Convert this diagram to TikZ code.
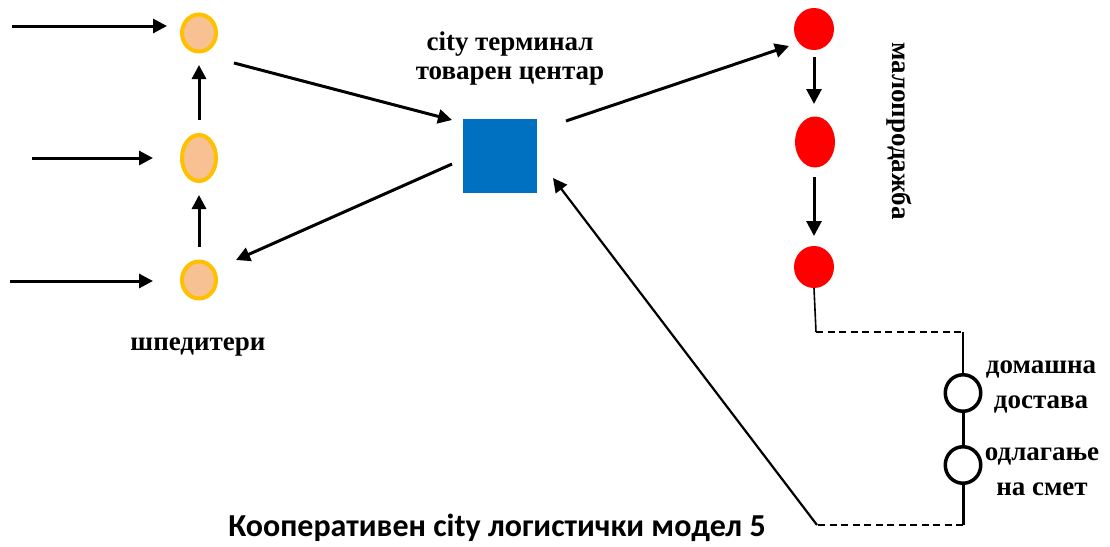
\documentclass[tikz,border=0pt]{standalone}
\usepackage{fontspec}
\setmainfont{Liberation Serif}
\newfontfamily\titlefont{Carlito}
\usetikzlibrary{arrows.meta,shapes.geometric}
\definecolor{peach}{HTML}{F8C193}
\definecolor{amber}{HTML}{FFC000}
\definecolor{termblue}{HTML}{0070C0}
\definecolor{shopred}{HTML}{FF0000}
\tikzset{
  arr/.style={line width=3pt,-{Triangle[length=14pt,width=14pt]}},
  fwd/.style={shape=ellipse,draw=amber,line width=4pt,fill=peach,inner sep=0pt,minimum width=34pt},
  shop/.style={shape=ellipse,fill=shopred,inner sep=0pt,minimum width=40pt},
  drop/.style={shape=ellipse,draw=black,line width=3.5pt,fill=white,inner sep=0pt,minimum width=35.5pt,minimum height=36.5pt},
  lbl/.style={font=\bfseries\fontsize{27}{29}\selectfont,align=center,inner sep=0pt},
  lblwide/.style={lbl,font=\bfseries\fontsize{27}{35}\selectfont},
  thinline/.style={line width=1.6pt},
  dashline/.style={line width=2pt,dash pattern=on 7pt off 4.5pt},
}
\begin{document}
\begin{tikzpicture}[x=1pt,y=-1pt]
\useasboundingbox (0,0) rectangle (1110,546);

% forwarders
\node[fwd,minimum height=37pt] (o1) at (199,33) {};
\node[fwd,minimum height=46pt] (o2) at (199,158) {};
\node[fwd,minimum height=37pt] (o3) at (199,280) {};

% terminal
\node[fill=termblue,minimum size=74pt,inner sep=0pt] (sq) at (500,156) {};

% retail
\node[shop,minimum height=42pt] (r1) at (814,29) {};
\node[shop,minimum height=51pt] (r2) at (815,142) {};
\node[shop,minimum height=42pt] (r3) at (814,267) {};

% home delivery and waste disposal
\node[drop] (c1) at (963,393) {};
\node[drop] (c2) at (963,465) {};

% free ends of the incoming arrows and the corners of the return route
\coordinate (s1) at (12,26);
\coordinate (s2) at (32,158);
\coordinate (s3) at (10,281);
\coordinate (k1) at (816,332);
\coordinate (k2) at (963,332);
\coordinate (k3) at (963,525);
\coordinate (k4) at (817,525);

% incoming flows
\draw[arr] (s1) -- ([shift={(-32,-7)}]o1.center);
\draw[arr] (s2) -- ([shift={(-46,0)}]o2.center);
\draw[arr] (s3) -- ([shift={(-46,1)}]o3.center);

% consolidation between forwarders
\draw[arr] ([shift={(0,-33)}]o3.center) -- ([shift={(0,37)}]o2.center);
\draw[arr] ([shift={(0,-38)}]o2.center) -- ([shift={(0,32)}]o1.center);

% forwarders <-> terminal
\draw[arr] ([shift={(35,30)}]o1.center) -- ([shift={(-48,-36)}]sq.center);
\draw[arr] ([shift={(-48,8)}]sq.center) -- ([shift={(37,-20)}]o3.center);

% terminal -> retail chain
\draw[arr] ([shift={(66,-35)}]sq.center) -- ([shift={(-25,17)}]r1.center);
\draw[arr,-{Triangle[length=15pt,width=15pt]}] ([shift={(0,28)}]r1.center) -- ([shift={(-1,-38)}]r2.center);
\draw[arr,-{Triangle[length=15pt,width=15pt]}] ([shift={(-1,35)}]r2.center) -- ([shift={(0,-31)}]r3.center);

% retail -> home delivery -> waste -> back to terminal
\draw[thinline] (r3.south) -- (k1);
\draw[dashline] (k1) -- (k2);
\draw[thinline] (k2) -- (c1.north);
\draw[line width=3pt] (c1.south) -- (c2.north);
\draw[line width=3pt] (c2.south) -- (k3);
\draw[dashline] (k3) -- (k4);
\draw[arr,line width=2.2pt] (k4) -- ([shift={(53,22)}]sq.center);

% labels
\node[lbl] (tt) at (510,59) {city терминал\\товарен центар};
\node[lbl] (tf) at (198,347) {шпедитери};
\node[lbl,rotate=-90] (tr) at (899,131) {малопродажба};
\node[lblwide] (th) at (1041,387) {домашна\\достава};
\node[lblwide] (tw) at (1042,472) {одлагање\\на смет};
\node[font=\titlefont\bfseries\fontsize{32}{36}\selectfont,inner sep=0pt] (title) at (497,528) {Кооперативен city логистички модел 5};
\end{tikzpicture}
\end{document}
